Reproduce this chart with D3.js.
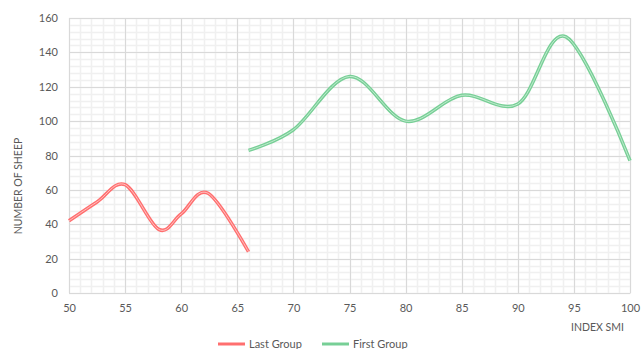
<!DOCTYPE html>
<html>
<head>
<meta charset="utf-8">
<script src="https://cdn.jsdelivr.net/npm/d3@7"></script>
<style>
  html, body { margin: 0; padding: 0; background: #fff; }
  svg { display: block; }
  text { font-family: Lato, "Open Sans", sans-serif; fill: #595959; }
</style>
</head>
<body>
<svg id="chart" width="641" height="349"></svg>
<script>
const seriesNames = ["Last Group", "First Group"];
const lastGroupX = [50, 52.5, 55, 58, 60, 62.4, 66];
const lastGroupY = [42, 53, 63, 37, 46, 58, 24];
const firstGroupX = [66, 70, 75, 80, 85, 90, 94.3, 100];
const firstGroupY = [83, 95, 126, 100, 115, 110, 149, 77];
const xTicks = [50, 55, 60, 65, 70, 75, 80, 85, 90, 95, 100];
const yTicks = [0, 20, 40, 60, 80, 100, 120, 140, 160];
const xTitle = "INDEX SMI";
const yTitle = "NUMBER OF SHEEP";

const svg = d3.select("#chart");
const m = { left: 69, right: 11, top: 18, bottom: 56 };
const W = 641, H = 349;
const x = d3.scaleLinear().domain([50, 100]).range([m.left, W - m.right]);
const y = d3.scaleLinear().domain([0, 160]).range([H - m.bottom, m.top]);

const g = svg.append("g");

// minor grid
const xMinor = d3.range(50, 100.001, 1);
const yMinor = d3.range(0, 160.001, 4);
g.append("g").selectAll("line").data(xMinor).join("line")
  .attr("x1", d => Math.round(x(d)) + 0.5).attr("x2", d => Math.round(x(d)) + 0.5)
  .attr("y1", y(0)).attr("y2", y(160))
  .attr("stroke", "#f0f0f0").attr("stroke-width", 1.5);
g.append("g").selectAll("line").data(yMinor).join("line")
  .attr("y1", d => Math.round(y(d)) + 0.5).attr("y2", d => Math.round(y(d)) + 0.5)
  .attr("x1", x(50)).attr("x2", x(100))
  .attr("stroke", "#f0f0f0").attr("stroke-width", 1.5);

// major grid
g.append("g").selectAll("line").data(xTicks).join("line")
  .attr("x1", d => Math.round(x(d)) + 0.5).attr("x2", d => Math.round(x(d)) + 0.5)
  .attr("y1", y(0)).attr("y2", y(160))
  .attr("stroke", "#d9d9d9").attr("stroke-width", 1);
g.append("g").selectAll("line").data(yTicks).join("line")
  .attr("y1", d => Math.round(y(d)) + 0.5).attr("y2", d => Math.round(y(d)) + 0.5)
  .attr("x1", x(50)).attr("x2", x(100))
  .attr("stroke", "#d9d9d9").attr("stroke-width", 1);

// axes
const xAxis = d3.axisBottom(x).tickValues(xTicks).tickSize(0).tickPadding(11);
const yAxis = d3.axisLeft(y).tickValues(yTicks).tickSize(0).tickPadding(11);
const gx = g.append("g").attr("transform", `translate(0,${y(0)})`).call(xAxis);
const gy = g.append("g").attr("transform", `translate(${x(50)},0)`).call(yAxis);
[gx, gy].forEach(a => {
  a.select(".domain").attr("stroke", "#d9d9d9");
  a.selectAll("text").style("font-family", "Lato, 'Open Sans', sans-serif")
    .style("font-size", "11px").attr("fill", "#595959");
});
gy.select(".domain").remove();

// axis titles
g.append("text").attr("x", 624).attr("y", 331).attr("text-anchor", "end")
  .style("font-size", "10.5px").text(xTitle);
g.append("text").attr("transform", "translate(22,186) rotate(-90)")
  .attr("text-anchor", "middle").style("font-size", "10.5px").text(yTitle);

// lines
const line = d3.line().x(d => x(d[0])).y(d => y(d[1])).curve(d3.curveCardinal.tension(0));
const series = [
  { name: seriesNames[0], pts: d3.zip(lastGroupX, lastGroupY), color: "#ff6f6f", inner: "#ffd6d6" },
  { name: seriesNames[1], pts: d3.zip(firstGroupX, firstGroupY), color: "#77cf96", inner: "#d2f0dc" }
];
series.forEach(s => {
  g.append("path").attr("d", line(s.pts)).attr("fill", "none")
    .attr("stroke", s.color).attr("stroke-width", 3.5).attr("stroke-linejoin", "round");
  g.append("path").attr("d", line(s.pts)).attr("fill", "none")
    .attr("stroke", s.inner).attr("stroke-width", 0.8).attr("stroke-linejoin", "round");
});

// legend
const legendX = [218, 322];
series.forEach((s, i) => {
  g.append("line").attr("x1", legendX[i]).attr("x2", legendX[i] + 27)
    .attr("y1", 344).attr("y2", 344).attr("stroke", s.color).attr("stroke-width", 3);
  g.append("text").attr("x", legendX[i] + 31).attr("y", 348)
    .style("font-size", "11px").text(s.name);
});
</script>
</body>
</html>
